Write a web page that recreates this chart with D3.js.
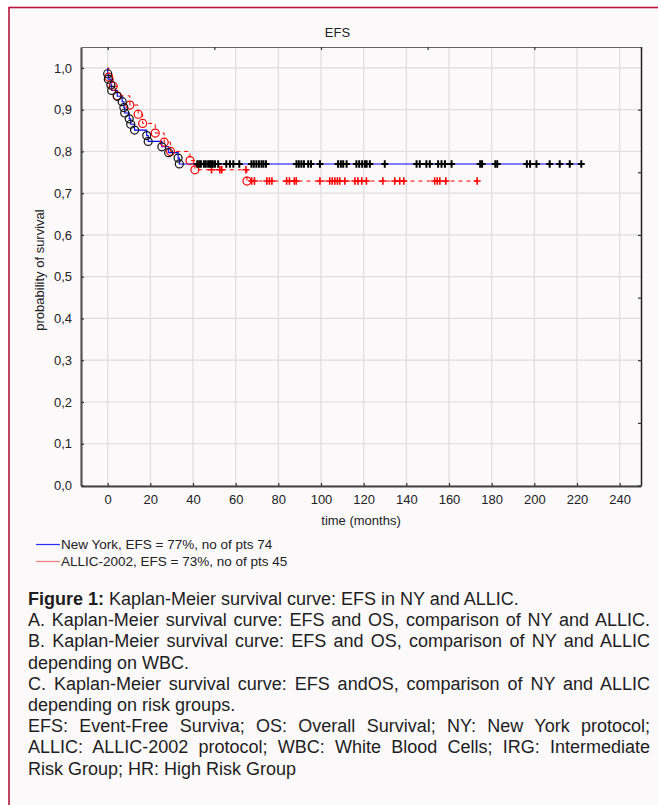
<!DOCTYPE html>
<html>
<head>
<meta charset="utf-8">
<script src="https://cdn.jsdelivr.net/npm/d3@7"></script>
<style>
body { margin: 0; background: #fff; }
#wrap { position: relative; width: 658px; height: 805px; overflow: hidden; }
#caption {
  position: absolute; left: 28px; top: 589px; width: 622px;
  font-family: "Liberation Sans", Arial, sans-serif; font-size: 18px;
  line-height: 21.2px; color: #1e1e1e;
}
#caption div { text-align: left; }
#caption div.j { text-align: justify; text-align-last: justify; }
</style>
</head>
<body>
<div id="wrap">
  <svg id="chart" width="658" height="805"></svg>
  <div id="caption"></div>
</div>
<script>
// New York protocol: events (time in months, survival after event)
const nyEventTimes = [0, 0.3, 1.5, 1.9, 4.5, 6.8, 7.6, 8.0, 10.1, 10.8, 12.6, 18.3, 19.0, 25.4, 28.6, 33.0, 33.6];
const nyEventSurv  = [0.986, 0.973, 0.959, 0.946, 0.932, 0.919, 0.905, 0.892, 0.878, 0.865, 0.851, 0.838, 0.824, 0.811, 0.797, 0.784, 0.770];
// New York censored patients
const nyCensorTimes = [42.0, 42.9, 43.7, 45.1, 46.0, 47.1, 47.9, 48.5, 49.3, 50.3, 51.8,
  55.6, 57.3, 58.9, 61.7,
  67.4, 68.5, 69.7, 70.9, 72.1, 73.0, 74.2,
  88.5, 89.6, 90.8, 92.0, 94.0, 95.3, 99.5,
  108.0, 109.3, 110.4, 112.0, 116.6, 117.9, 119.3, 120.6, 121.4, 122.9,
  129.9,
  144.8, 146.3, 149.4, 151.0, 154.9, 156.5, 158.1, 161.2,
  174.6, 175.5, 181.7, 182.6,
  196.5, 198.0, 201.0, 207.2, 211.9, 216.6, 222.0];

// ALLIC-2002 protocol
const allicEventTimes = [0.5, 2.6, 4.5, 10.4, 14.3, 16.4, 22.3, 26.5, 29.5, 38.6, 40.9, 65.3];
const allicEventSurv  = [0.978, 0.956, 0.933, 0.911, 0.889, 0.867, 0.844, 0.822, 0.800, 0.778, 0.756, 0.729];
const allicCensorTimes = [48.7, 52.6, 53.5, 64.8,
  67.5, 68.8, 74.6, 75.8, 77.0, 83.9, 85.2, 87.5, 88.4, 99.5,
  104.1, 105.3, 106.5, 107.7, 108.8, 111.2, 115.9, 117.3, 119.1, 121.3,
  129.0, 134.6, 136.9, 138.8, 153.3, 154.5, 155.7, 158.5, 173.2];

const xTickValues = [0, 20, 40, 60, 80, 100, 120, 140, 160, 180, 200, 220, 240];
const yTickValues = [0, 0.1, 0.2, 0.3, 0.4, 0.5, 0.6, 0.7, 0.8, 0.9, 1.0];
const topTickValues = [0, 50, 100, 150, 200, 250];
const rightTickValues = [0, 0.15, 0.3, 0.45, 0.6, 0.75, 0.9];

const legendLabels = ["New York, EFS = 77%, no of pts 74", "ALLIC-2002, EFS = 73%, no of pts 45"];

const captionLines = [
  { bold: "Figure 1:", text: " Kaplan-Meier survival curve: EFS in NY and ALLIC.", j: false },
  { text: "A. Kaplan-Meier survival curve: EFS and OS, comparison of NY and ALLIC.", j: true },
  { text: "B. Kaplan-Meier survival curve: EFS and OS, comparison of NY and ALLIC", j: true },
  { text: "depending on WBC.", j: false },
  { text: "C. Kaplan-Meier survival curve: EFS andOS, comparison of NY and ALLIC", j: true },
  { text: "depending on risk groups.", j: false },
  { text: "EFS: Event-Free Surviva; OS: Overall Survival; NY: New York protocol;", j: true },
  { text: "ALLIC: ALLIC-2002 protocol; WBC: White Blood Cells; IRG: Intermediate", j: true },
  { text: "Risk Group; HR: High Risk Group", j: false }
];

const pLeft = 81, pRight = 641, pTop = 47, pBottom = 486;
const font = "'Liberation Sans', Arial, sans-serif";

const x = d3.scaleLinear().domain([-12.5, 250]).range([pLeft, pRight]);
const y = d3.scaleLinear().domain([0, 1.05]).range([pBottom - 0.5, pTop]);

const svg = d3.select("#chart");

// frame
svg.append("rect")
  .attr("x", 9).attr("y", 7.5).attr("width", 800).attr("height", 900)
  .attr("fill", "#fbf9fa").attr("stroke", "#b8163f").attr("stroke-width", 1.6);

// grid
const grid = svg.append("g").attr("stroke", "#dddddd").attr("stroke-width", 1.2);
grid.selectAll("line.v").data(xTickValues).enter().append("line")
  .attr("x1", d => x(d)).attr("x2", d => x(d)).attr("y1", pTop).attr("y2", pBottom);
grid.selectAll("line.h").data(yTickValues).enter().append("line")
  .attr("x1", pLeft).attr("x2", pRight).attr("y1", d => y(d)).attr("y2", d => y(d));

// step curves
function stepPoints(times, surv, censor) {
  const pts = [[0, 1]];
  times.forEach((t, i) => pts.push([t, surv[i]]));
  pts.push([Math.max(d3.max(censor), d3.max(times)), surv[surv.length - 1]]);
  return pts;
}
function survAt(times, surv, t) {
  const i = d3.bisectRight(times, t);
  return i === 0 ? 1 : surv[i - 1];
}
const line = d3.line().x(d => x(d[0])).y(d => y(d[1])).curve(d3.curveStepAfter);

svg.append("path")
  .datum(stepPoints(allicEventTimes, allicEventSurv, allicCensorTimes))
  .attr("fill", "none").attr("stroke", "#ff0000").attr("stroke-width", 1)
  .attr("stroke-dasharray", "4,4").attr("d", line);

svg.append("path")
  .datum(stepPoints(nyEventTimes, nyEventSurv, nyCensorTimes))
  .attr("fill", "none").attr("stroke", "#0000ff").attr("stroke-width", 1.1).attr("d", line);

const plus = "M-3.5,0H3.5M0,-3.8V3.8";

// ALLIC markers
svg.append("g").selectAll("circle").data(allicEventTimes).enter().append("circle")
  .attr("cx", d => x(d)).attr("cy", (d, i) => y(allicEventSurv[i])).attr("r", 4)
  .attr("fill", "none").attr("stroke", "#ff0000").attr("stroke-width", 1.2);
svg.append("g").selectAll("path").data(allicCensorTimes).enter().append("path")
  .attr("transform", d => `translate(${x(d)},${y(survAt(allicEventTimes, allicEventSurv, d))})`)
  .attr("d", plus).attr("stroke", "#ff0000").attr("stroke-width", 1.6).attr("fill", "none");

// New York markers
svg.append("g").selectAll("circle").data(nyEventTimes).enter().append("circle")
  .attr("cx", d => x(d)).attr("cy", (d, i) => y(nyEventSurv[i])).attr("r", 4)
  .attr("fill", "none").attr("stroke", "#111").attr("stroke-width", 1.2);
svg.append("g").selectAll("path").data(nyCensorTimes).enter().append("path")
  .attr("transform", d => `translate(${x(d)},${y(survAt(nyEventTimes, nyEventSurv, d))})`)
  .attr("d", plus).attr("stroke", "#000").attr("stroke-width", 2).attr("fill", "none");

// axes
const comma = d => d.toFixed(1).replace(".", ",");
const xAxis = svg.append("g").attr("transform", `translate(0,${pBottom})`)
  .call(d3.axisBottom(x).tickValues(xTickValues).tickSize(-3).tickPadding(9).tickSizeOuter(0));
const yAxis = svg.append("g").attr("transform", `translate(${pLeft},0)`)
  .call(d3.axisLeft(y).tickValues(yTickValues).tickFormat(comma).tickSize(-3).tickPadding(9).tickSizeOuter(0));
const tAxis = svg.append("g").attr("transform", `translate(0,${pTop})`)
  .call(d3.axisTop(x).tickValues(topTickValues).tickFormat("").tickSize(-3).tickSizeOuter(0));
const rAxis = svg.append("g").attr("transform", `translate(${pRight},0)`)
  .call(d3.axisRight(y).tickValues(rightTickValues).tickFormat("").tickSize(-3).tickSizeOuter(0));

[xAxis, yAxis, tAxis, rAxis].forEach(g => {
  g.selectAll("text").attr("font-family", font).attr("font-size", 13).attr("fill", "#222");
  g.selectAll(".tick line").attr("stroke", "#333").attr("stroke-width", 1.2);
});
xAxis.select(".domain").attr("stroke", "#444").attr("stroke-width", 2);
yAxis.select(".domain").attr("stroke", "#555").attr("stroke-width", 2.2);
tAxis.select(".domain").attr("stroke", "#666").attr("stroke-width", 1);
rAxis.select(".domain").attr("stroke", "#222").attr("stroke-width", 1.5);

// titles
svg.append("text").attr("x", 337.5).attr("y", 37).attr("text-anchor", "middle")
  .attr("font-family", font).attr("font-size", 13).attr("fill", "#222").text("EFS");
svg.append("text").attr("x", 361).attr("y", 525).attr("text-anchor", "middle")
  .attr("font-family", font).attr("font-size", 13).attr("fill", "#222").text("time (months)");
svg.append("text").attr("transform", "translate(44,270) rotate(-90)").attr("text-anchor", "middle")
  .attr("font-family", font).attr("font-size", 13).attr("fill", "#222").text("probability of survival");

// legend
const legendColors = ["#2b2bff", "#ff7b7b"];
const leg = svg.append("g").selectAll("g").data(legendLabels).enter().append("g")
  .attr("transform", (d, i) => `translate(36,${544.5 + i * 17})`);
leg.append("line").attr("x1", 0).attr("x2", 24).attr("y1", 0).attr("y2", 0)
  .attr("stroke", (d, i) => legendColors[i]).attr("stroke-width", 1.2);
leg.append("text").attr("x", 25).attr("y", 4.5).attr("font-family", font).attr("font-size", 13.5)
  .attr("fill", "#222").text(d => d);

// caption
const cap = d3.select("#caption").selectAll("div").data(captionLines).enter().append("div")
  .attr("class", d => d.j ? "j" : null);
cap.filter(d => d.bold).append("b").text(d => d.bold);
cap.append("span").text(d => d.text);
</script>
</body>
</html>
